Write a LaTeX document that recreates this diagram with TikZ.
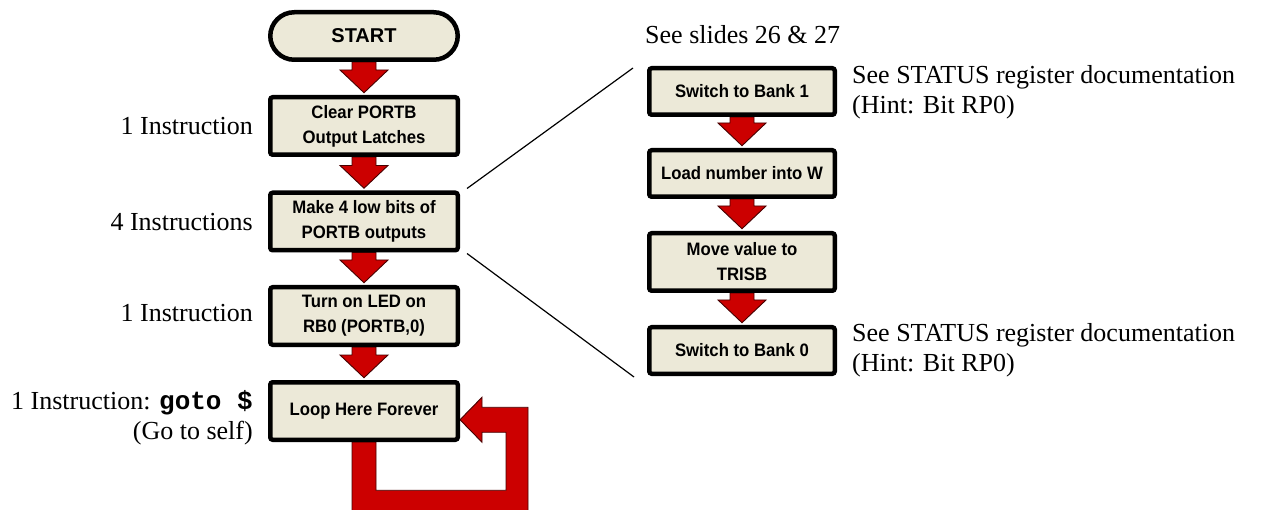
\documentclass[tikz,border=0pt]{standalone}
\usepackage{fontspec}
\setmainfont{Liberation Serif}
\setsansfont{Liberation Sans}
\setmonofont{Liberation Mono}
\newfontfamily\boxfont{Liberation Sans}[FakeStretch=0.93]
\usetikzlibrary{calc,backgrounds}

\definecolor{boxfill}{RGB}{236,233,216}
\definecolor{arrowred}{RGB}{204,0,0}
\definecolor{arrowedge}{RGB}{70,0,0}

\tikzset{
  stepbox/.style={draw=black, line width=4.5pt, fill=boxfill, rounded corners=2.5pt,
    minimum width=187.5pt, minimum height=57.5pt, inner sep=0pt, align=center,
    font=\boxfont\bfseries\fontsize{18}{25}\selectfont},
  smallbox/.style={stepbox, minimum width=185.5pt, minimum height=46.5pt},
  startbox/.style={stepbox, rounded corners=24pt, minimum height=47.5pt,
    font=\sffamily\bfseries\fontsize{20}{24}\selectfont},
  fatarrow/.style={fill=arrowred, draw=arrowedge, line width=0.9pt, line join=miter},
  lbl/.style={inner sep=0pt, font=\fontsize{26}{30}\selectfont},
  zoomline/.style={draw=black, line width=1.2pt},
}

% thick red arrow from the bottom of one box to the top of the next
\newcommand\flowarrow[2]{%
  \path[fatarrow] ($(#1.south)+(-12,0)$) -- ($(#2.north)+(-12,-25)$)
    -- ($(#2.north)+(-24,-25)$) -- ($(#2.north)+(0,-2.25)$)
    -- ($(#2.north)+(24,-25)$) -- ($(#2.north)+(12,-25)$)
    -- ($(#1.south)+(12,0)$) -- cycle;}

\begin{document}
\begin{tikzpicture}[x=1pt,y=-1pt]
\useasboundingbox (0,0) rectangle (1268,510);

% main program flow
\node[startbox] (start) at (364,36) {START};
\node[stepbox] (b1) at (364,126) {Clear PORTB\\Output Latches};
\node[stepbox] (b2) at (364,221.5) {Make 4 low bits of\\PORTB outputs};
\node[stepbox] (b3) at (364,316) {Turn on LED on\\RB0 (PORTB,0)};
\node[stepbox] (b4) at (364,411) {Loop Here Forever};

% detail of the port set-up step
\node[smallbox] (r1) at (742,91.5) {Switch to Bank 1};
\node[smallbox] (r2) at (742,173.5) {Load number into W};
\node[stepbox, minimum width=185.5pt] (r3) at (742,262) {Move value to\\TRISB};
\node[smallbox] (r4) at (742,350.5) {Switch to Bank 0};

% instruction counts
\node[lbl, anchor=east] (c1) at (253,126) {1 Instruction};
\node[lbl, anchor=east] (c2) at (253,222) {4 Instructions};
\node[lbl, anchor=east] (c3) at (253,313) {1 Instruction};
\node[lbl, anchor=east, align=right] (c4) at (253,418)
  {1 Instruction: {\ttfamily\bfseries goto \$}\\(Go to self)};

% notes on the detail steps
\node[lbl, anchor=west] (n0) at (645,35) {See slides 26 \& 27};
\node[lbl, anchor=west, align=left] (n1) at (852,92)
  {See STATUS register documentation\\(Hint: Bit RP0)};
\node[lbl, anchor=west, align=left] (n2) at (852,350)
  {See STATUS register documentation\\(Hint: Bit RP0)};

% zoom lines from the set-up step to its detail
\draw[zoomline] ($(b2.north east)+(7,-2)$) -- ($(r1.north west)+(-14,2)$);
\draw[zoomline] ($(b2.south east)+(7,1)$) -- ($(r4.south west)+(-13,1)$);

\begin{scope}[on background layer]
  \flowarrow{start}{b1}
  \flowarrow{b1}{b2}
  \flowarrow{b2}{b3}
  \flowarrow{b3}{b4}
  \flowarrow{r1}{r2}
  \flowarrow{r2}{r3}
  \flowarrow{r3}{r4}
  % endless loop back into the last box
  \path[fatarrow] ($(b4.south)+(-12,0)$) -- ++(0,70.25) -- ++(176,0)
    -- ++(0,-105) -- ++(-46,0) -- ++(0,-10) -- ++(-22,22.5)
    -- ++(22,22.5) -- ++(0,-10) -- ++(24,0) -- ++(0,58)
    -- ++(-130,0) -- ++(0,-48.25) -- cycle;
\end{scope}
\end{tikzpicture}
\end{document}
